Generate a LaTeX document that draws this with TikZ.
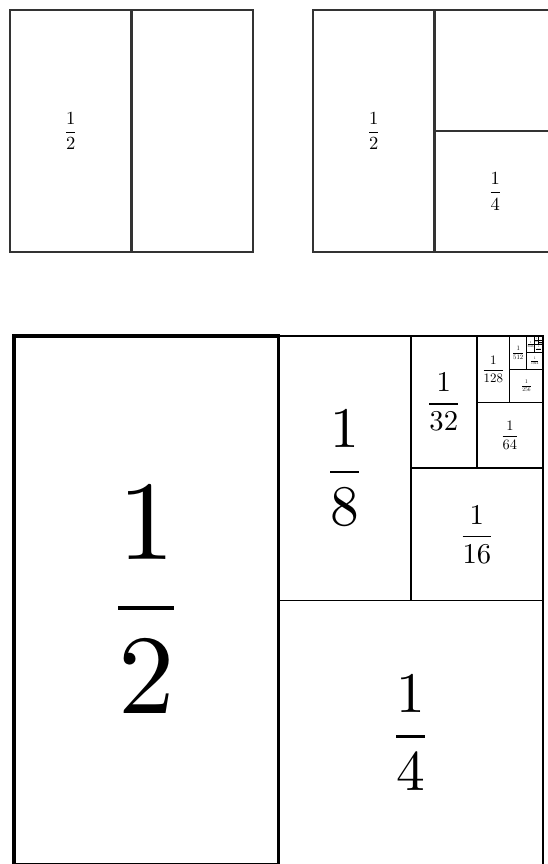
\documentclass[tikz,border=0pt]{standalone}
\usepackage{tikz}
\usepackage{amsmath}

\begin{document}
\begin{tikzpicture}[x=0.019cm, y=-0.019cm,
  box/.style={draw=black!80, line width=1.1pt},
  part/.style={draw=black, line width=0.9pt},
  half/.style={draw=black, line width=1.8pt},
  lab/.style={inner sep=0pt}]
\useasboundingbox (0,0) rectangle (548,864);
\clip (0,0) rectangle (548,864);
% (a) one cut: the square in two halves
\draw[box] (10,10) rectangle (253,252);
\draw[box] (131.5,10) -- (131.5,252);
\node[lab] (h1) at (70.75,131) {$\dfrac{1}{2}$};
% (b) second cut: the right half in two quarters
\draw[box] (313,10) rectangle (556,252);
\draw[box] (434.5,10) -- (434.5,252);
\draw[box] (434.5,131) -- (556,131);
\node[lab] (h2) at (373.75,131) {$\dfrac{1}{2}$};
\node[lab] (q2) at (495.25,191.5) {$\dfrac{1}{4}$};
% (c) cutting on and on: each piece is half of what is left
\draw[part] (14,336) rectangle (543,865);
\foreach \xa/\ya/\xb/\yb/\d/\s in {
    278.5/600.5/543/865/4/3.1,
    278.5/336/410.75/600.5/8/3.1,
    410.75/468.25/543/600.5/16/1.55,
    410.75/336/476.88/468.25/32/1.55,
    476.88/402.13/543/468.25/64/0.78,
    476.88/336/509.94/402.13/128/0.7,
    509.94/369.06/543/402.13/256/0.3,
    509.94/336/526.47/369.06/512/0.36,
    526.47/352.53/543/369.06/1024/0.2,
    526.47/336/534.73/352.53/2048/0.16,
    534.73/344.26/543/352.53/4096/0.13,
    534.73/336/538.87/344.26/8192/0.11,
    538.87/340.13/543/344.26/16384/0.1}
{
  \draw[part, line width={\s<1 ? 0.5pt : 0.9pt}] (\xa,\ya) rectangle (\xb,\yb);
  \node[lab, scale=\s] (c\d) at ({(\xa+\xb)/2},{(\ya+\yb)/2}) {$\dfrac{1}{\d}$};
}
\draw[half] (14,336) rectangle (278.5,865);
\node[lab, scale=6.1] (c2) at (146.25,600.5) {$\dfrac{1}{2}$};
\end{tikzpicture}
\end{document}
